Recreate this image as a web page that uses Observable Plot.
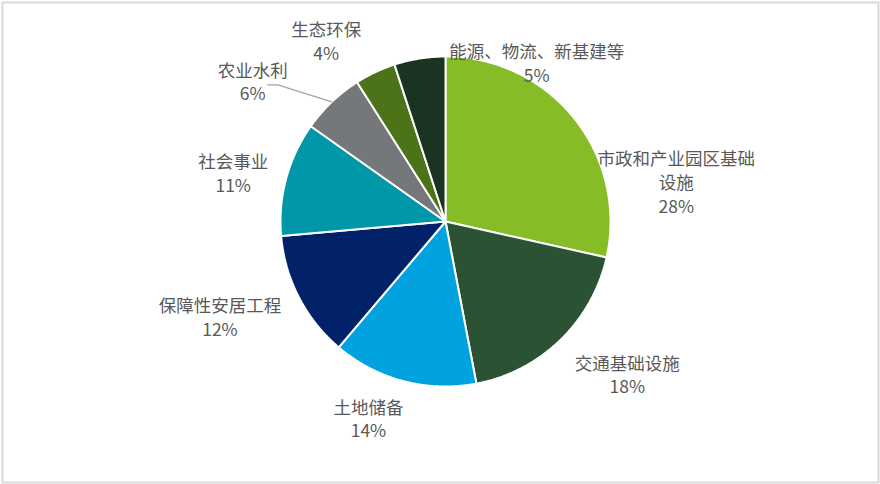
<!DOCTYPE html>
<html>
<head>
<meta charset="utf-8">
<script src="https://cdn.jsdelivr.net/npm/d3@7"></script>
<script src="https://cdn.jsdelivr.net/npm/@observablehq/plot@0.6"></script>
<style>
  html, body { margin: 0; padding: 0; background: #fff; }
  #chart svg { display: block; }
</style>
</head>
<body>
<div id="chart"></div>
<script>
// ---- data ----
const categories = ["市政和产业园区基础设施", "交通基础设施", "土地储备", "保障性安居工程", "社会事业", "农业水利", "生态环保", "能源、物流、新基建等"];
const shares = [28.5, 18.5, 14.2, 12.4, 11.2, 6.2, 4.0, 5.0];
const percentLabels = ["28%", "18%", "14%", "12%", "11%", "6%", "4%", "5%"];
const labelLines = ["市政和产业园区基础\n设施", "交通基础设施", "土地储备", "保障性安居工程", "社会事业", "农业水利", "生态环保", "能源、物流、新基建等"];

// ---- style / layout ----
const colors = ["#86BC25", "#2A5233", "#00A3E0", "#012169", "#0097A9", "#75787B", "#4C7318", "#1B3321"];
const labelOffsets = [[102, 63], [67, 34], [-35, 37], [-79, 19], [-53, -6], [-79, -21], [-49, -32], [117, 4]]; // px from slice edge midpoint
const W = 880, H = 484, R = 165, CX = 445, CY = 221;

// pie geometry via d3.pie (angles clockwise from north)
const arcs = d3.pie().sort(null).value(d => d)(shares);
const polyPoints = [];
arcs.forEach((a, i) => {
  const name = categories[i];
  polyPoints.push({name, x: 0, y: 0});
  const n = Math.max(2, Math.ceil((a.endAngle - a.startAngle) / 0.005));
  for (let k = 0; k <= n; k++) {
    const t = a.startAngle + (a.endAngle - a.startAngle) * k / n;
    polyPoints.push({name, x: Math.sin(t), y: -Math.cos(t)});
  }
  polyPoints.push({name, x: 0, y: 0});
});

const labels = arcs.map((a, i) => {
  const m = (a.startAngle + a.endAngle) / 2;
  return {
    name: categories[i],
    text: labelLines[i] + "\n" + percentLabels[i],
    x: Math.sin(m) + labelOffsets[i][0] / R,
    y: -Math.cos(m) + labelOffsets[i][1] / R,
    ex: Math.sin(m), ey: -Math.cos(m)
  };
});

// leader line for the small 农业水利 slice
const agri = labels[5];
const leader = [
  {x: agri.ex, y: agri.ey},
  {x: agri.ex - 54 / R, y: agri.ey - 17 / R},
  {x: agri.ex - 64 / R, y: agri.ey - 17 / R}
];

const chart = Plot.plot({
  width: W,
  height: H,
  margin: 0,
  style: {fontFamily: "'Noto Sans CJK SC', 'Noto Sans', sans-serif", background: "#fff"},
  x: {domain: [-CX / R, (W - CX) / R], range: [0, W], axis: null},
  y: {domain: [-CY / R, (H - CY) / R], range: [0, H], axis: null},
  color: {domain: categories, range: colors},
  marks: [
    Plot.frame({stroke: "#d9d9d9", strokeWidth: 2, inset: 2}),
    Plot.line(polyPoints, {x: "x", y: "y", z: "name", fill: "name", stroke: "white", strokeWidth: 2, strokeLinejoin: "miter"}),
    Plot.line(leader, {x: "x", y: "y", stroke: "#a6a6a6", strokeWidth: 1.3}),
    Plot.text(labels, {x: "x", y: "y", text: "text", fill: "#595959", fontSize: 17.5, lineHeight: 1.35, textAnchor: "middle", lineAnchor: "middle"})
  ]
});
document.getElementById("chart").appendChild(chart);
</script>
</body>
</html>
